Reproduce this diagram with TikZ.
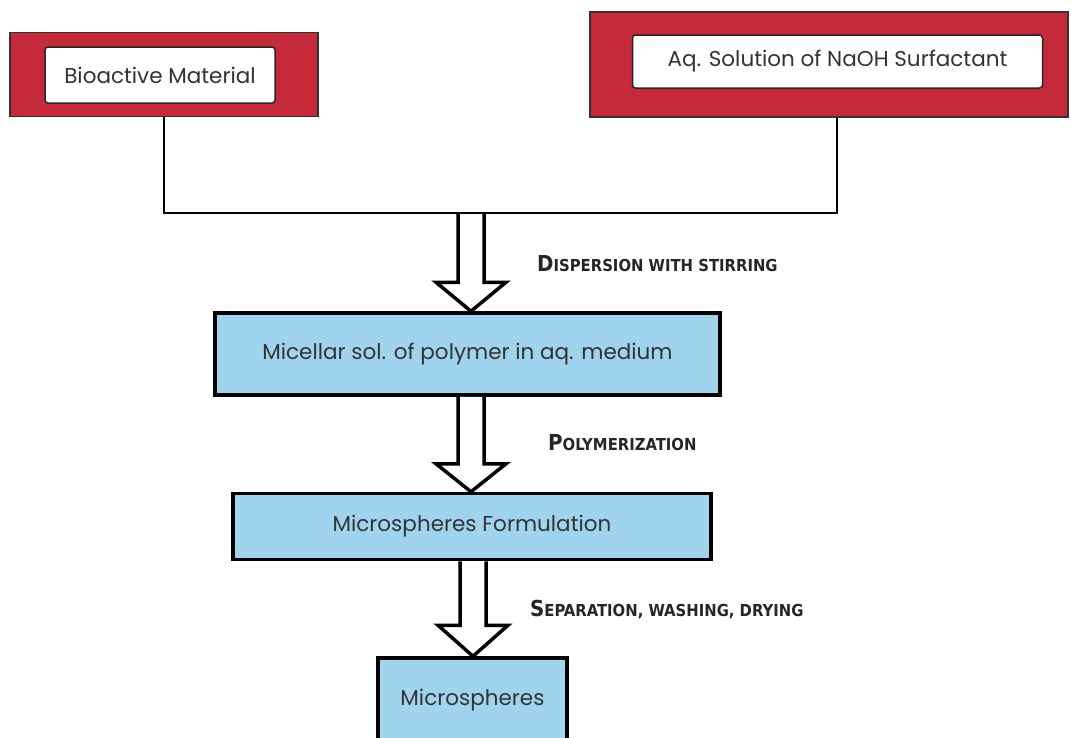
\documentclass[tikz,border=0pt]{standalone}
\usepackage{fontspec}
\setmainfont{Poppins}
\newfontfamily\labfont{DejaVu Sans Condensed}[BoldFont={DejaVu Sans Condensed Bold}]
\usetikzlibrary{calc}
\definecolor{boxred}{HTML}{C62A3A}
\definecolor{boxblue}{HTML}{A0D4EE}
\definecolor{txt}{HTML}{333333}
\tikzset{
  redbox/.style={draw=black!80, line width=1.5pt, fill=boxred, inner sep=0pt},
  whitebox/.style={draw=black!85, line width=1.5pt, fill=white, rounded corners=3pt, text=txt, font=\fontsize{21.5}{24}\selectfont},
  bluebox/.style={draw=black, line width=3.5pt, fill=boxblue, text=txt, font=\fontsize{21.5}{24}\selectfont},
  conn/.style={draw=black, line width=2.6pt},
  harrow/.style={draw=black, line width=3.5pt, fill=white, line join=miter},
  steplabel/.style={anchor=west, text=black!85, font=\labfont\bfseries\fontsize{14}{16}\selectfont, inner sep=0pt},
}
\newcommand{\fakesc}[2]{{\fontsize{22}{24}\selectfont #1}{\fontsize{16.5}{20}\selectfont #2}}
\newcommand{\hollowarrow}[3]{%
  \draw[harrow] ($(#1)+(-13,0)$) -- ($(#2)+(-13,-#3)$) -- ($(#2)+(-35,-#3)$) -- (#2)
    -- ($(#2)+(35,-#3)$) -- ($(#2)+(13,-#3)$) -- ($(#1)+(13,0)$);}
\begin{document}
\begin{tikzpicture}[x=1pt,y=-1pt]
\useasboundingbox (0,0) rectangle (1071,737);
\begin{scope}
\clip (0,0) rectangle (1071,737);
% red source boxes
\node[redbox, minimum width=308, minimum height=84] (leftred) at (164,74.5) {};
\node[whitebox, minimum width=230, minimum height=56] (bio) at (160,75) {Bioactive Material};
\node[redbox, minimum width=478, minimum height=105] (rightred) at (829,64.5) {};
\node[whitebox, minimum width=410, minimum height=53] (aq) at (837.5,61.5) {Aq. Solution of NaOH Surfactant};
% process boxes
\node[bluebox, minimum width=505, minimum height=82] (mic) at (467.5,354) {Micellar sol. of polymer in aq. medium};
\node[bluebox, minimum width=478, minimum height=66] (form) at (472,526.5) {Microspheres Formulation};
\node[bluebox, minimum width=189, minimum height=100] (ms) at (472.5,708) {};
\node[text=txt, font=\fontsize{21.5}{24}\selectfont] (mslab) at (472.5,700) {Microspheres};
% hollow arrows
\coordinate (j) at (470,213);
\coordinate (t1) at (471,0 |- mic.north);
\coordinate (s2) at (471,0 |- mic.south);
\coordinate (t2) at (471,0 |- form.north);
\coordinate (s3) at (473,0 |- form.south);
\coordinate (t3) at (473,0 |- ms.north);
\hollowarrow{j -| t1}{t1}{29}
\hollowarrow{s2}{t2}{28}
\hollowarrow{s3}{t3}{31}
% joining connector
\coordinate (jl) at (leftred.south |- j);
\coordinate (jr) at (837,213);
\draw[conn] (leftred.south) -- (jl) -- (jr) -- (jr |- rightred.south);
% step labels
\node[steplabel] (l1) at (537,264) {\fakesc{D}{ISPERSION WITH STIRRING}};
\node[steplabel] (l2) at (548,443) {\fakesc{P}{OLYMERIZATION}};
\node[steplabel] (l3) at (530,609) {\fakesc{S}{EPARATION, WASHING, DRYING}};
\end{scope}
\end{tikzpicture}
\end{document}
